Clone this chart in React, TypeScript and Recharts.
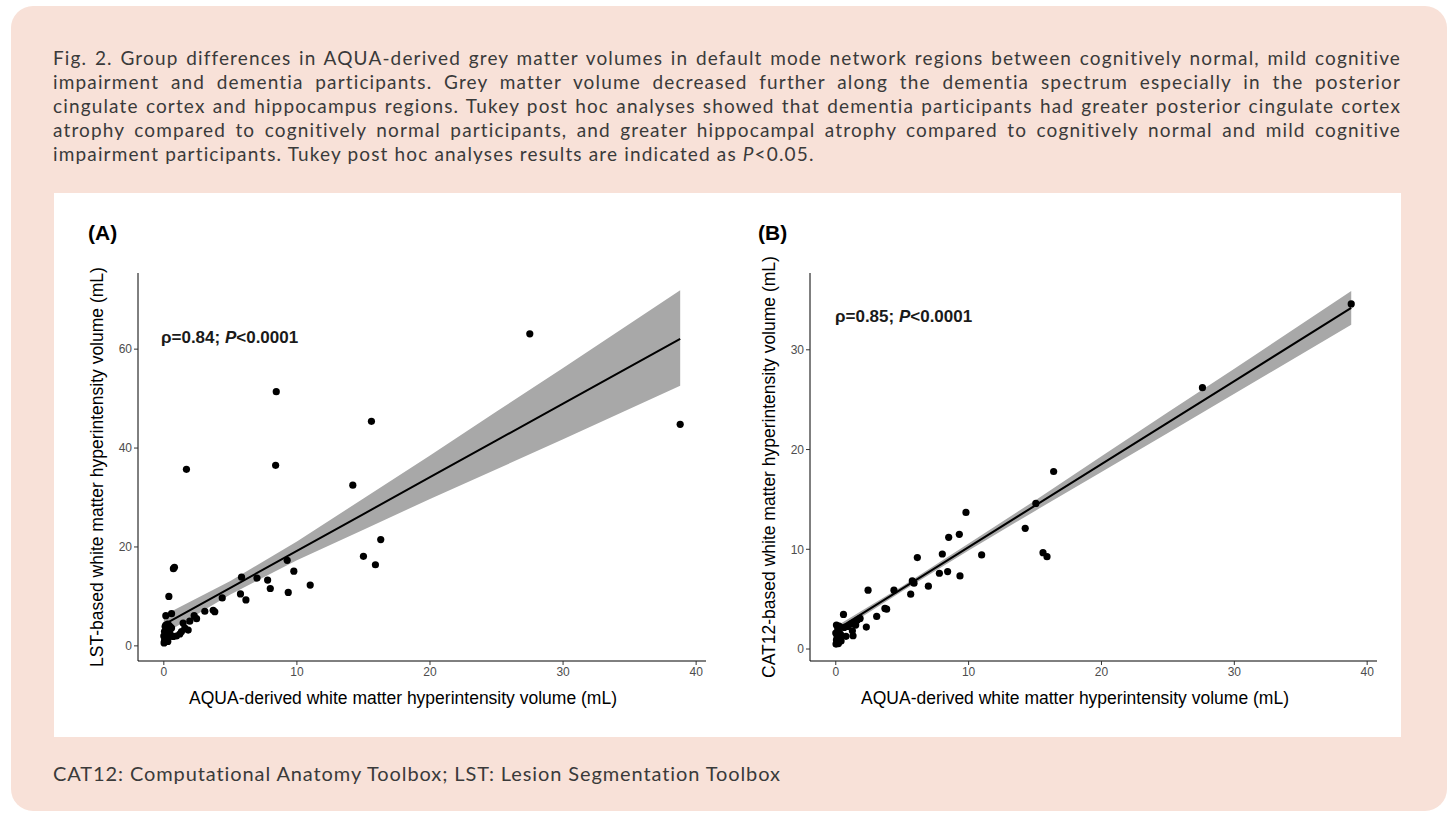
import { ComposedChart, Area, Line, Scatter, XAxis, YAxis } from "recharts"

// axis ticks
const xTicks = [0, 10, 20, 30, 40]
const lstTicks = [0, 20, 40, 60]
const cat12Ticks = [0, 10, 20, 30]

// AQUA (x) vs LST (y), panel A
const lstPoints = [
  [27.5, 63.1], [38.8, 44.8], [8.45, 51.4], [8.4, 36.5], [15.6, 45.4], [1.7, 35.7],
  [14.2, 32.5], [16.3, 21.5], [15.0, 18.1], [15.9, 16.4], [9.27, 17.3], [9.77, 15.1],
  [9.35, 10.8], [11.0, 12.3], [7.8, 13.3], [7.0, 13.7], [8.0, 11.6], [5.84, 13.9],
  [5.76, 10.5], [6.17, 9.3], [4.39, 9.7], [3.08, 7.0], [3.71, 7.2], [3.83, 6.9],
  [2.28, 6.1], [2.46, 5.5], [1.95, 5.0], [1.45, 4.6], [1.58, 3.6], [1.83, 3.2],
  [1.2, 2.4], [1.33, 2.9], [0.72, 15.6], [0.8, 15.9], [0.38, 10.0], [0.15, 6.1],
  [0.58, 6.5], [0.58, 3.6], [0.4, 4.1], [0.7, 1.9], [0.95, 2.0], [0.02, 0.6],
  [0.05, 1.0], [0.1, 1.5], [0.0, 2.0], [0.15, 2.4], [0.05, 2.9], [0.2, 3.3],
  [0.1, 3.9], [0.3, 4.4], [0.25, 1.2], [0.35, 1.8], [0.45, 2.6], [0.5, 3.8],
  [0.15, 4.2], [0.3, 0.9],
]

// AQUA (x) vs CAT12 (y), panel B
const cat12Points = [
  [27.6, 26.2], [38.8, 34.6], [16.4, 17.8], [15.06, 14.6], [15.6, 9.66], [15.9, 9.26],
  [14.26, 12.1], [9.8, 13.7], [9.3, 11.5], [8.5, 11.2], [8.02, 9.53], [6.14, 9.17],
  [10.98, 9.43], [7.8, 7.6], [8.42, 7.77], [9.35, 7.33], [5.76, 6.83], [5.89, 6.6],
  [5.64, 5.5], [6.97, 6.3], [4.38, 5.9], [2.43, 5.9], [3.83, 4.0], [3.7, 4.07],
  [3.08, 3.27], [2.3, 2.2], [1.83, 3.07], [1.63, 2.9], [1.38, 2.67], [1.13, 2.5],
  [1.5, 2.4], [1.25, 1.83], [1.3, 1.33], [0.58, 3.47], [0.63, 2.17], [0.88, 2.27],
  [0.38, 1.33], [0.77, 1.27], [0.02, 0.5], [0.05, 0.9], [0.1, 1.2], [0.0, 1.6],
  [0.15, 2.0], [0.05, 2.4], [0.2, 1.8], [0.1, 0.7], [0.3, 1.0], [0.25, 2.3],
  [0.35, 1.5], [0.4, 0.8], [0.2, 0.55],
]

// regression fit + 95% band, read at these x positions
const bandX = [0, 5, 10, 15, 20, 25, 30, 38.8]
const lstFit = [4.3, 11.75, 19.2, 26.65, 34.1, 41.55, 49.0, 62.1]
const lstLower = [2.4, 10.4, 17.3, 23.5, 29.7, 35.7, 41.8, 52.6]
const lstUpper = [6.2, 13.1, 21.1, 29.8, 38.5, 47.4, 56.2, 71.9]
const cat12Fit = [1.9, 6.06, 10.22, 14.38, 18.54, 22.7, 26.86, 34.2]
const cat12Lower = [1.55, 5.8, 9.87, 13.85, 17.75, 21.65, 25.6, 32.5]
const cat12Upper = [2.25, 6.3, 10.57, 14.9, 19.33, 23.75, 28.1, 35.9]

const captionLines = [
  "Fig. 2. Group differences in AQUA-derived grey matter volumes in default mode network regions between cognitively normal, mild cognitive",
  "impairment and dementia participants. Grey matter volume decreased further along the dementia spectrum especially in the posterior",
  "cingulate cortex and hippocampus regions. Tukey post hoc analyses showed that dementia participants had greater posterior cingulate cortex",
  "atrophy compared to cognitively normal participants, and greater hippocampal atrophy compared to cognitively normal and mild cognitive",
]

const chartFont = "'Liberation Sans', Arial, sans-serif"
const textFont = "Lato, 'Open Sans', sans-serif"

const dot = (p: any) => <circle cx={p.cx} cy={p.cy} r={3.6} fill="#000" />

function Panel({ left, points, fit, lower, upper, yDomain, yTicks, marginRight }: any) {
  const lineData = bandX.map((x, i) => ({ x, fit: fit[i], band: [lower[i], upper[i]] }))
  const scatterData = points.map((p: number[]) => ({ x: p[0], y: p[1] }))
  return (
    <div style={{ position: "absolute", left, top: 193 }}>
      <ComposedChart
        width={700}
        height={544}
        data={lineData}
        margin={{ top: 80, right: marginRight, bottom: 46, left: 45 }}
      >
        <XAxis
          dataKey="x"
          type="number"
          domain={[-1.94, 40.74]}
          ticks={xTicks}
          allowDataOverflow
          height={30}
          tickSize={4}
          axisLine={{ stroke: "#000", strokeWidth: 1 }}
          tickLine={{ stroke: "#333" }}
          tick={{ fill: "#4d4d4d", fontSize: 12, fontFamily: chartFont }}
        />
        <YAxis
          type="number"
          domain={yDomain}
          ticks={yTicks}
          allowDataOverflow
          width={40}
          tickSize={4}
          axisLine={{ stroke: "#000", strokeWidth: 1 }}
          tickLine={{ stroke: "#333" }}
          tick={{ fill: "#4d4d4d", fontSize: 12, fontFamily: chartFont }}
        />
        <Area
          type="linear"
          dataKey="band"
          fill="#a8a8a8"
          fillOpacity={1}
          stroke="none"
          isAnimationActive={false}
        />
        <Line
          type="linear"
          dataKey="fit"
          stroke="#000"
          strokeWidth={2}
          dot={false}
          isAnimationActive={false}
        />
        <Scatter data={scatterData} dataKey="y" shape={dot} isAnimationActive={false} />
      </ComposedChart>
    </div>
  )
}

export default function App() {
  return (
    <div style={{ position: "absolute", left: 0, top: 0, width: 1455, height: 820, background: "#fff" }}>
      <div
        style={{
          position: "absolute",
          left: 11,
          top: 6,
          width: 1436,
          height: 805,
          borderRadius: 22,
          background: "#f8e1d8",
        }}
      />

      {/* caption */}
      <div
        style={{
          position: "absolute",
          left: 53,
          top: 46,
          width: 1348,
          fontFamily: textFont,
          fontSize: 19,
          letterSpacing: 1.15,
          lineHeight: "24px",
          color: "#3a3a3a",
        }}
      >
        {captionLines.map((line) => (
          <div key={line} style={{ textAlign: "justify", textAlignLast: "justify", whiteSpace: "nowrap" }}>
            {line}
          </div>
        ))}
        <div>
          impairment participants. Tukey post hoc analyses results are indicated as <i>P</i>&lt;0.05.
        </div>
      </div>

      <div style={{ position: "absolute", left: 54, top: 193, width: 1347, height: 544, background: "#fff" }} />

      <Panel
        left={53}
        points={lstPoints}
        fit={lstFit}
        lower={lstLower}
        upper={lstUpper}
        yDomain={[-3.06, 75.4]}
        yTicks={lstTicks}
        marginRight={47}
      />
      <Panel
        left={725}
        points={cat12Points}
        fit={cat12Fit}
        lower={cat12Lower}
        upper={cat12Upper}
        yDomain={[-1.2, 37.7]}
        yTicks={cat12Ticks}
        marginRight={48}
      />

      {/* panel labels, stats and axis titles */}
      <svg
        width={1455}
        height={820}
        style={{ position: "absolute", left: 0, top: 0, pointerEvents: "none" }}
        fontFamily={chartFont}
      >
        <text x={88} y={240} fontSize={21} fontWeight="bold" fill="#000">(A)</text>
        <text x={758} y={240} fontSize={21} fontWeight="bold" fill="#000">(B)</text>

        <text x={161} y={343} fontSize={17} fontWeight="bold" fill="#1a1a1a">
          ρ=0.84; <tspan fontStyle="italic">P</tspan>&lt;0.0001
        </text>
        <text x={835} y={322} fontSize={17} fontWeight="bold" fill="#1a1a1a">
          ρ=0.85; <tspan fontStyle="italic">P</tspan>&lt;0.0001
        </text>

        <text x={98} y={467} fontSize={17.5} textAnchor="middle" dominantBaseline="middle"
          transform="rotate(-90, 98, 467)" fill="#000">
          LST-based white matter hyperintensity volume (mL)
        </text>
        <text x={770} y={467} fontSize={17.5} textAnchor="middle" dominantBaseline="middle"
          transform="rotate(-90, 770, 467)" fill="#000">
          CAT12-based white matter hyperintensity volume (mL)
        </text>

        <text x={403} y={704} fontSize={17.5} textAnchor="middle" fill="#000">
          AQUA-derived white matter hyperintensity volume (mL)
        </text>
        <text x={1075} y={704} fontSize={17.5} textAnchor="middle" fill="#000">
          AQUA-derived white matter hyperintensity volume (mL)
        </text>
      </svg>

      <div
        style={{
          position: "absolute",
          left: 53,
          top: 760,
          fontFamily: textFont,
          fontSize: 20,
          letterSpacing: 0.9,
          lineHeight: "26px",
          color: "#3a3a3a",
        }}
      >
        CAT12: Computational Anatomy Toolbox; LST: Lesion Segmentation Toolbox
      </div>
    </div>
  )
}
